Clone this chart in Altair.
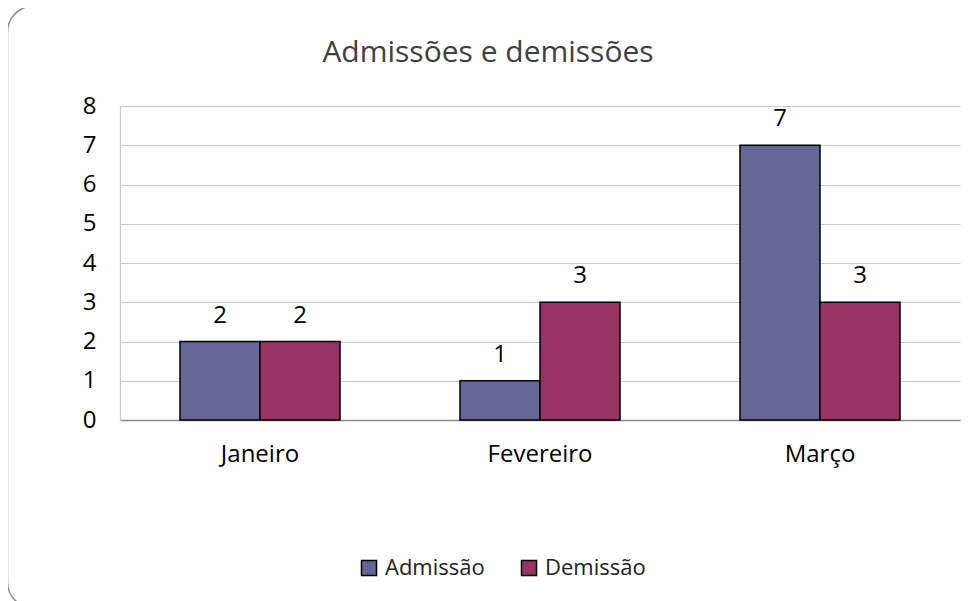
import altair as alt
import pandas as pd

meses = ["Janeiro", "Fevereiro", "Março"]
series = ["Admissão", "Demissão"]
admissao = [2, 1, 7]
demissao = [2, 3, 3]
cores = ["#666699", "#993366"]
y_ticks = [0, 1, 2, 3, 4, 5, 6, 7, 8]
titulo = "Admissões e demissões"

rows = []
for i, m in enumerate(meses):
    rows.append({"mes": m, "serie": series[0], "valor": admissao[i]})
    rows.append({"mes": m, "serie": series[1], "valor": demissao[i]})
df = pd.DataFrame(rows)

FONT = "Open Sans"
FS = 24

x_enc = alt.X("mes:N", sort=meses, title=None,
              scale=alt.Scale(paddingInner=0, paddingOuter=0),
              axis=alt.Axis(labelAngle=0, labelFontSize=FS, labelFont=FONT,
                            labelColor="#000000", labelPadding=22, ticks=False,
                            domainColor="#8c8c8c", domainWidth=1.5, grid=False))
xo_enc = alt.XOffset("serie:N", sort=series,
                     scale=alt.Scale(paddingInner=0, paddingOuter=0.75))
y_enc = alt.Y("valor:Q", title=None,
              scale=alt.Scale(domain=[0, 8], nice=False),
              axis=alt.Axis(values=y_ticks, format="d", labelFontSize=FS,
                            labelFont=FONT, labelColor="#000000", labelPadding=24,
                            ticks=False, labelOverlap=False, tickCount=20,
                            domainColor="#c8c8c8", gridColor="#c8c8c8",
                            gridWidth=1.2, domainWidth=1.2))

bars = alt.Chart(df).mark_bar(stroke="#000000", strokeWidth=1.5).encode(
    x=x_enc,
    xOffset=xo_enc,
    y=y_enc,
    color=alt.Color("serie:N", sort=series, title=None,
                    scale=alt.Scale(domain=series, range=cores),
                    legend=alt.Legend(orient="none", legendX=238, legendY=451,
                                      direction="horizontal", symbolType="square",
                                      symbolSize=225, symbolStrokeColor="#000000",
                                      symbolStrokeWidth=1.5, labelFontSize=22,
                                      labelFont=FONT, labelColor="#222222",
                                      columnPadding=33, labelOffset=5)),
)

labels = alt.Chart(df).mark_text(baseline="alphabetic", dy=-19, fontSize=FS,
                                 font=FONT, color="#000000").encode(
    x=x_enc,
    xOffset=xo_enc,
    y=y_enc,
    text=alt.Text("valor:Q"),
)

border = alt.Chart(pd.DataFrame({"k": [0]})).mark_rect(
    fillOpacity=0, stroke="#8c8c8c", strokeWidth=1.5, cornerRadius=26
).encode(
    x=alt.value(-112.5), x2=alt.value(880),
    y=alt.value(-100), y2=alt.value(502),
)

title = alt.Chart(pd.DataFrame({"t": [titulo]})).mark_text(
    fontSize=30, font=FONT, color="#404040", baseline="alphabetic", align="center"
).encode(
    x=alt.value(368), y=alt.value(-44), text="t:N"
)

chart = alt.layer(border, bars, labels, title).properties(
    width=840, height=314,
    autosize=alt.AutoSizeParams(type="none"),
    padding={"left": 112, "top": 98, "right": 8, "bottom": 185},
).configure_view(stroke=None)

chart.save("out.html", embed_options={"renderer": "svg", "actions": False})
